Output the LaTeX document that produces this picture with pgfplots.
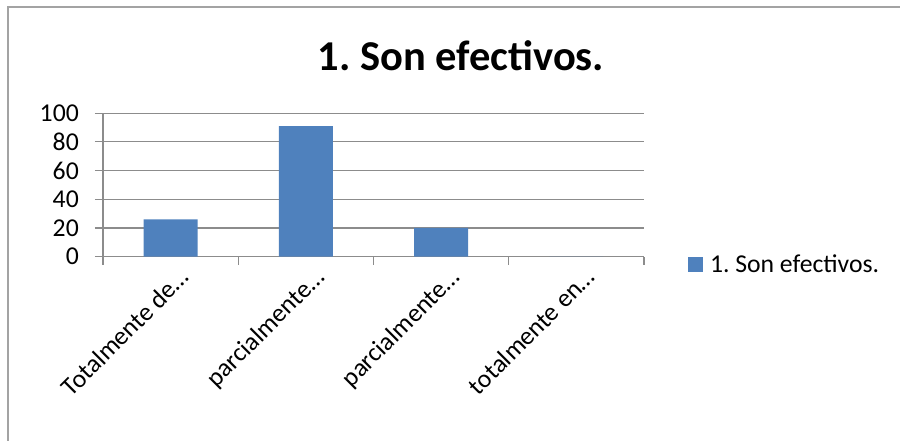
\documentclass[border=0pt]{standalone}
\usepackage{pgfplots}
\pgfplotsset{compat=1.18}
\usepackage{fontspec}
\setmainfont{Carlito}
\frenchspacing
\definecolor{barblue}{HTML}{4F81BD}
\definecolor{gridgray}{HTML}{8C8C8C}
\begin{document}
\begin{tikzpicture}[x=1pt,y=1pt]
\useasboundingbox (0pt,0pt) rectangle (900pt,441pt);
\draw[gridgray!80, line width=1.6pt] (8pt,0pt) -- (8pt,434pt) -- (900pt,434pt);
\node[font=\fontsize{42.5}{44}\selectfont\bfseries] at (461pt,385pt) {1. Son efectivos.};
\begin{axis}[
  at={(103pt,184.3pt)}, anchor=south west,
  scale only axis, width=541pt, height=143.5pt,
  xmin=-0.5, xmax=3.5, ymin=0, ymax=100,
  ytick={0,20,...,100},
  xtick={0,1,2,3},
  xticklabels={Totalmente de…, parcialmente…, parcialmente…, totalmente en…},
  minor xtick={-0.5,0.5,1.5,2.5,3.5},
  axis x line*=bottom, axis y line*=left,
  x axis line style={gridgray, line width=1.2pt},
  y axis line style={gridgray, line width=1.2pt},
  tick align=outside,
  major tick length=8pt, minor tick length=8pt,
  major x tick style={draw=none},
  minor x tick style={gridgray, line width=1.2pt},
  ytick style={gridgray, line width=1.2pt},
  ymajorgrids, grid style={gridgray, line width=1.2pt},
  /pgf/number format/assume math mode=true,
  ticklabel style={font=\fontsize{25.7}{27}\selectfont},
  yticklabel style={inner sep=0pt, xshift=-16pt},
  xticklabel style={xshift=20pt, yshift=-14pt, rotate=45, anchor=base east, inner sep=0pt},
  legend style={at={(1.081,-0.054)}, anchor=west, draw=none, fill=none,
     inner sep=0pt, font=\fontsize{25.7}{27}\selectfont,
     nodes={inner sep=0pt}, cells={anchor=west},
     /tikz/every odd column/.append style={column sep=7pt}},
  legend image code/.code={\fill[barblue] (0pt,-7.5pt) rectangle (15pt,7.5pt);},
]
\addplot[ybar, fill=barblue, draw=none, bar width=54pt] coordinates {(0,26) (1,91) (2,20) (3,0)};
\addlegendentry{1. Son efectivos.}
\end{axis}
\end{tikzpicture}
\end{document}
